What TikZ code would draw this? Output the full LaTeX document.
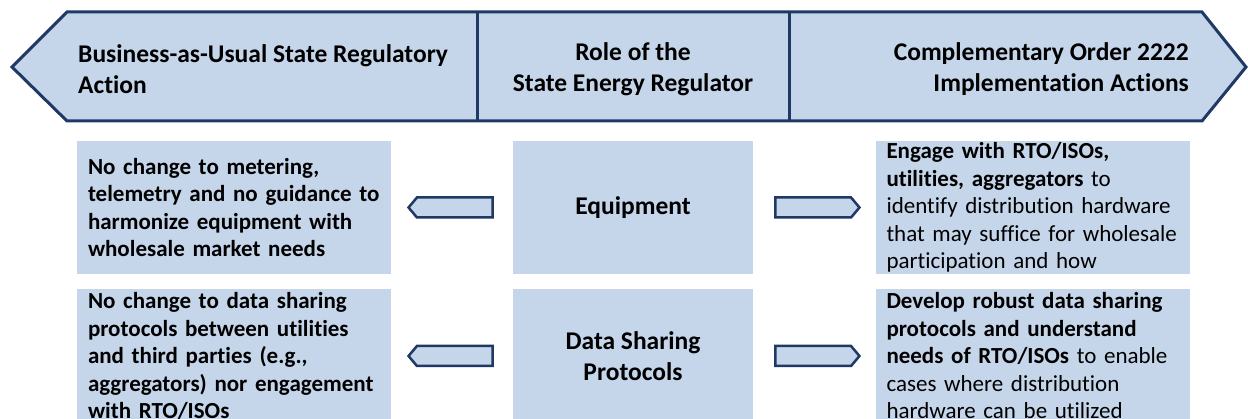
\documentclass[tikz,border=0pt]{standalone}
\usepackage{fontspec}
\setmainfont{Carlito}[Ligatures=NoCommon]
\usepackage{tikz}
\usetikzlibrary{shapes.symbols,positioning}

\definecolor{cellblue}{HTML}{C5D5EA}
\definecolor{edgenavy}{HTML}{1F3864}

\begin{document}
\begin{tikzpicture}[x=1pt, y=-1pt,
    banner/.style={draw=edgenavy, line width=3pt, fill=cellblue, line join=miter},
    divider/.style={draw=edgenavy, line width=3pt},
    headtext/.style={inner sep=0pt, font=\fontsize{25.5}{31}\selectfont\bfseries},
    rolebox/.style={rectangle, fill=cellblue, minimum width=240pt, minimum height=133pt, align=center, font=\fontsize{25.5}{31}\selectfont\bfseries},
    actionbox/.style={rectangle, fill=cellblue, minimum width=314pt, minimum height=133pt, text width=292pt, inner xsep=11pt, inner ysep=0pt, align=left, font=\fontsize{23}{27.5}\selectfont},
    pointer/.style={signal, draw=edgenavy, line width=2.5pt, fill=cellblue, minimum width=84pt, minimum height=20pt, inner sep=0pt, signal pointer angle=100}
]
\useasboundingbox (0,0) rectangle (1248,419);
\clip (0,0) rectangle (1248,419);

% Header banner
\draw[banner] (67,12) -- (1202,12) -- (1246,67) -- (1202,121) -- (67,121) -- (12,67) -- cycle;
\draw[divider] (477,12) -- (477,121);
\draw[divider] (789,12) -- (789,121);

\node[headtext, anchor=west, align=left] (bau) at (78,69) {Business-as-Usual State Regulatory\\Action};
\node[headtext, align=center] (role) at (633,69) {Role of the\\State Energy Regulator};
\node[headtext, anchor=east, align=right] (order) at (1189,69) {Complementary Order 2222\\Implementation Actions};

% Row 1: equipment
\node[rolebox] (equip) at (633,207.5) {Equipment};
\node[actionbox, font=\fontsize{23}{27.5}\selectfont\bfseries] (equipbau) at (234,207.5)
    {No change to metering,\\telemetry and no guidance to\\harmonize equipment with\\wholesale market needs};
\node[actionbox] (equipord) at (1032.5,207.5)
    {\textbf{Engage with RTO/ISOs,}\\\textbf{utilities, aggregators} to\\identify distribution hardware\\that may suffice for wholesale\\participation and how};

% Row 2: data sharing
\node[rolebox] (data) at (633,356) {Data Sharing\\Protocols};
\node[actionbox, font=\fontsize{23}{27.5}\selectfont\bfseries] (databau) at (234,356)
    {No change to data sharing\\protocols between utilities\\and third parties (e.g.,\\aggregators) nor engagement\\with RTO/ISOs};
\node[actionbox] (dataord) at (1032.5,356)
    {\textbf{Develop robust data sharing}\\\textbf{protocols and understand}\\\textbf{needs of RTO/ISOs} to enable\\cases where distribution\\hardware can be utilized};

% Pointers
\node[pointer, signal to=west, left=19pt of equip] (equipl) {};
\node[pointer, signal to=east, right=21pt of equip] (equipr) {};
\node[pointer, signal to=west, left=19pt of data] (datal) {};
\node[pointer, signal to=east, right=21pt of data] (datar) {};

\end{tikzpicture}
\end{document}
